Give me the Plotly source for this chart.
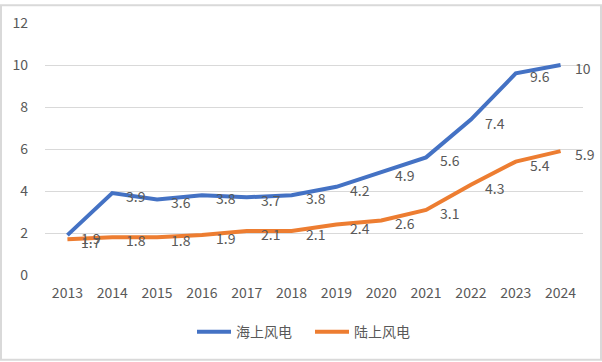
import plotly.graph_objects as go

years = ["2013","2014","2015","2016","2017","2018","2019","2020","2021","2022","2023","2024"]
offshore = [1.9, 3.9, 3.6, 3.8, 3.7, 3.8, 4.2, 4.9, 5.6, 7.4, 9.6, 10]
onshore = [1.7, 1.8, 1.8, 1.9, 2.1, 2.1, 2.4, 2.6, 3.1, 4.3, 5.4, 5.9]
y_ticks = [0, 2, 4, 6, 8, 10, 12]

FONT = "Noto Sans CJK SC"
W, H = 602, 362
L, R, T, B = 45, 19, 19, 87
pw, ph = W - L - R, H - T - B
LABEL = "#595959"

fig = go.Figure()
fig.add_trace(go.Scatter(x=years, y=offshore, name="海上风电", mode="lines",
                         line=dict(color="#4472C4", width=4)))
fig.add_trace(go.Scatter(x=years, y=onshore, name="陆上风电", mode="lines",
                         line=dict(color="#ED7D31", width=4)))

annotations = []
for series in (offshore, onshore):
    for i, v in enumerate(series):
        annotations.append(dict(x=i, y=v, xref="x", yref="y", text=f"{v:g}",
                                showarrow=False, xanchor="left", yanchor="middle",
                                xshift=12, yshift=-3,
                                font=dict(family=FONT, size=14, color=LABEL)))

fig.update_layout(
    width=W, height=H,
    margin=dict(l=L, r=R, t=T, b=B),
    paper_bgcolor="white", plot_bgcolor="white",
    font=dict(family=FONT, size=14, color=LABEL),
    showlegend=True,
    legend=dict(orientation="h", x=(200 - L - 8) / pw, xanchor="left",
                y=(T + ph - 333) / ph, yanchor="middle",
                font=dict(family=FONT, size=14, color=LABEL), itemwidth=34,
                entrywidth=69, entrywidthmode="pixels"),
    xaxis=dict(type="category", showgrid=False, zeroline=False, showline=False,
               ticks="", ticklabelstandoff=8, tickfont=dict(size=14, color=LABEL),
               range=[-0.5, 11.5]),
    yaxis=dict(range=[0, 12], tickvals=y_ticks, showgrid=True, gridcolor="#D9D9D9", gridwidth=1,
               zeroline=False, showline=False, ticks="", ticklabelstandoff=16,
               tickfont=dict(size=14, color=LABEL)),
    annotations=annotations,
    shapes=[dict(type="rect", xref="paper", yref="paper",
                 x0=(1 - L) / pw, x1=(W - 1 - L) / pw,
                 y0=-(H - 1 - T - ph) / ph, y1=1 + (T - 1) / ph,
                 line=dict(color="#D9D9D9", width=2), fillcolor="rgba(0,0,0,0)", layer="below")],
)
fig.write_html("out.html", config={"displayModeBar": False},
               post_script="document.body.style.margin='0';document.body.style.overflow='hidden';")
